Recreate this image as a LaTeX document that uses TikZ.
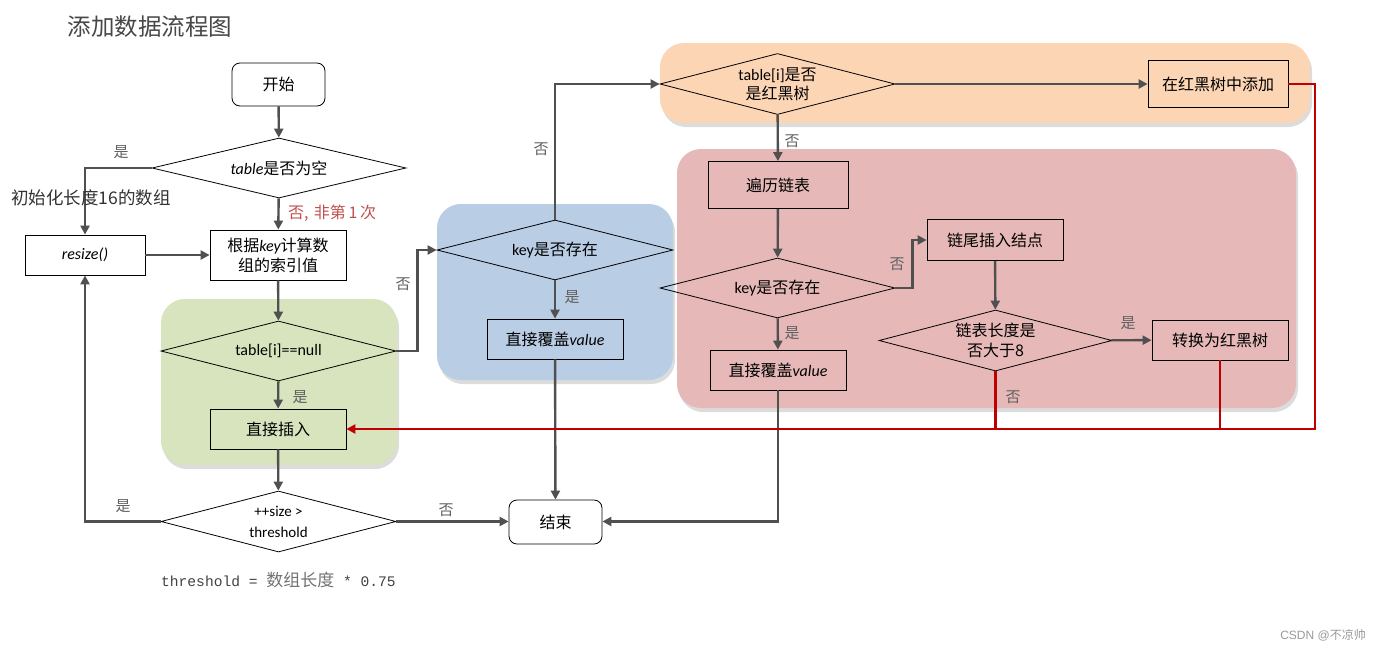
\documentclass[tikz,border=0pt]{standalone}
\usepackage{fontspec}
\newfontfamily\cjk{Noto Sans CJK SC}
\newfontfamily\lat{Carlito}
\newfontfamily\mono{Liberation Mono}
\newfontfamily\arialish{Liberation Sans}
\usetikzlibrary{shapes.geometric,arrows.meta,shadows}

\definecolor{linegray}{HTML}{505050}
\definecolor{labgray}{HTML}{606060}
\definecolor{redline}{HTML}{C00000}
\definecolor{greenbg}{HTML}{D7E4BD}
\definecolor{bluebg}{HTML}{B9CDE5}
\definecolor{orangebg}{HTML}{FCD5B5}
\definecolor{pinkbg}{HTML}{E6B9B8}
\definecolor{notered}{HTML}{C0504D}

\newcommand\lt[1]{{\lat\itshape #1}}

\tikzset{
  region/.style={rounded corners=24pt, draw=none, fill=#1,
    drop shadow={opacity=0.28, shadow xshift=2pt, shadow yshift=-4pt}},
  procbox/.style={draw=black, line width=0.8pt, rectangle, inner sep=0pt,
    font=\cjk\fontsize{16}{20}\selectfont, align=center},
  termbox/.style={procbox, rounded corners=8pt, fill=white},
  decision/.style={draw=black, line width=0.8pt, diamond, inner sep=0pt,
    shape aspect=4, font=\cjk\fontsize{16}{20}\selectfont, align=center},
  flow/.style={draw=linegray, line width=2.4pt,
    -{Triangle[length=9pt,width=9pt]}},
  redflow/.style={draw=redline, line width=2.4pt},
  branch/.style={font=\cjk\fontsize{15}{18}\selectfont, text=labgray, inner sep=0pt},
}

\begin{document}
\begin{tikzpicture}[x=1pt, y=-1pt]
\useasboundingbox (0,0) rectangle (1380,651);

% coloured groups
\path[region=greenbg]  (161,299) rectangle (397,465);
\path[region=bluebg]   (437,204) rectangle (673,380);
\path[region=orangebg] (660,43)  rectangle (1310,123);
\path[region=pinkbg]   (677,149) rectangle (1296,408);

% title
\node[font=\cjk\fontsize{23.5}{26}\selectfont, text=black!72, anchor=west] (title) at (64,27) {添加数据流程图};

% main column
\node[termbox, minimum width=93pt, minimum height=43pt] (start) at (278.5,84.5) {开始};
\node[decision, minimum width=254pt, minimum height=60pt] (d1) at (279,168) {};
\node[font=\cjk\fontsize{16}{20}\selectfont] (d1t) at (d1) {\lt{table}是否为空};
\node[procbox, fill=white, minimum width=120pt, minimum height=40pt] (resize) at (85,255) {\lt{resize()}};
\node[procbox, fill=white, minimum width=136pt, minimum height=50pt] (idx) at (278,255)
  {根据\lt{key}计算数\\组的索引值};
\node[decision, minimum width=235pt, minimum height=60pt] (d2) at (278.5,351) {};
\node[font=\lat\fontsize{16}{20}\selectfont] (d2t) at (d2) {table[i]==null};
\node[procbox, minimum width=136pt, minimum height=40pt] (ins) at (278,429) {直接插入};
\node[decision, minimum width=235pt, minimum height=61pt] (d3) at (278.5,521.5) {};
\node[font=\lat\fontsize{15}{21}\selectfont, align=center] (d3t) at (d3) {++size >\\threshold};
\node[termbox, minimum width=93pt, minimum height=44pt] (end) at (555.5,522) {结束};

% blue group
\node[decision, minimum width=236pt, minimum height=60pt] (dk1) at (555,250) {};
\node[font=\cjk\fontsize{16}{20}\selectfont] (dk1t) at (dk1) {{\lat key}是否存在};
\node[procbox, minimum width=136pt, minimum height=40pt] (ov1) at (555,339) {直接覆盖\lt{value}};

% orange group
\node[decision, minimum width=235pt, minimum height=61pt] (dt) at (777.5,84) {};
\node[font=\cjk\fontsize{16}{19}\selectfont, align=center] (dtt) at (dt) {{\lat table[i]}是否\\是红黑树};
\node[procbox, minimum width=140pt, minimum height=47pt] (addtree) at (1218,84) {在红黑树中添加};

% pink group
\node[procbox, minimum width=140pt, minimum height=47pt] (bl) at (778,185) {遍历链表};
\node[decision, minimum width=235pt, minimum height=60pt] (dk2) at (777.5,288) {};
\node[font=\cjk\fontsize{16}{20}\selectfont] (dk2t) at (dk2) {{\lat key}是否存在};
\node[procbox, minimum width=136pt, minimum height=40pt] (ov2) at (778,370) {直接覆盖\lt{value}};
\node[procbox, minimum width=136pt, minimum height=41pt] (tail) at (995,240) {链尾插入结点};
\node[decision, minimum width=233pt, minimum height=61pt] (d8) at (995.5,340.5) {};
\node[font=\cjk\fontsize{16}{20}\selectfont, align=center] (d8t) at (d8) {链表长度是\\否大于8};
\node[procbox, minimum width=136pt, minimum height=40pt] (conv) at (1220,340) {转换为红黑树};

% connectors
\draw[flow] (start) -- (d1);
\draw[flow] (d1) -- (idx);
\draw[flow] (d1.west) -| (resize.north);
\draw[flow] (resize) -- (idx);
\draw[flow] (idx) -- (d2);
\draw[flow] (d2) -- (ins);
\draw[flow] (ins) -- (d3);
\draw[flow] (d3.west) -| (resize.south);
\draw[flow] (d3.east) -- (end.west |- d3.east);
\draw[flow] (d2.east) -- ++(21,0) |- (dk1.west);
\draw[flow] (dk1) -- (ov1);
\draw[flow] (ov1) -- (end);
\draw[flow] (dk1.north) |- (dt.west);
\draw[flow] (dt) -- (addtree);
\draw[flow] (dt) -- (bl);
\draw[flow] (bl) -- (dk2);
\draw[flow] (dk2) -- (ov2);
\draw[flow] (ov2.south) |- (end.east |- d3.east);
\draw[flow] (dk2.east) -- ++(17,0) |- (tail.west);
\draw[flow] (tail) -- (d8);
\draw[flow] (d8) -- (conv);

% return paths into the direct insert
\coordinate (rc) at (1315,429);
\draw[redflow, -{Triangle[length=9pt,width=9pt]}] (addtree.east) -| (rc) -- (ins.east);
\draw[redflow] (d8.south) -- (d8.south |- rc);
\draw[redflow] (conv.south) -- (conv.south |- rc);

% branch labels
\node[branch] (l1) at (121,152) {是};
\node[branch, text=black!80, anchor=west, font=\cjk\fontsize{17.5}{20}\selectfont] (l2) at (11,198) {初始化长度16的数组};
\node[branch, text=notered, anchor=west, font=\cjk\fontsize{16}{18}\selectfont] (l3) at (288,213) {否,\,\,非第\,1\,次};
\node[branch] (l4) at (300,397) {是};
\node[branch] (l5) at (123,506) {是};
\node[branch] (l6) at (446,510) {否};
\node[branch] (l7) at (403,284) {否};
\node[branch] (l8) at (572,297) {是};
\node[branch] (l9) at (541,149) {否};
\node[branch] (l10) at (792,141) {否};
\node[branch] (l11) at (897,264) {否};
\node[branch] (l12) at (792,333) {是};
\node[branch] (l13) at (1128,323) {是};
\node[branch] (l14) at (1013,397) {否};

% formula and footer
\node[anchor=west, inner sep=0pt, text=black!75] (formula) at (161,580)
  {{\mono\fontsize{14.6}{18}\selectfont threshold = }{\cjk\fontsize{17}{18}\selectfont\color{black!55}数组长度}{\mono\fontsize{14.6}{18}\selectfont{} * 0.75}};
\node[anchor=east, inner sep=0pt, text=black!40, font=\fontsize{12}{14}\selectfont] (csdn) at (1366,635)
  {{\arialish CSDN @}{\cjk 不凉帅}};
\end{tikzpicture}
\end{document}
